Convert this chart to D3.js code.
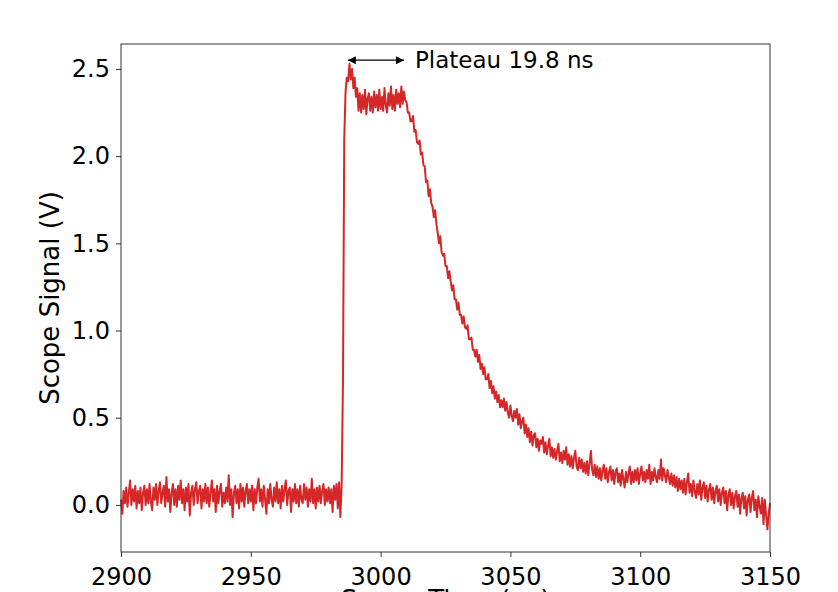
<!DOCTYPE html>
<html>
<head>
<meta charset="utf-8">
<script src="https://cdn.jsdelivr.net/npm/d3@7"></script>
<style>
  body { margin: 0; background: #fff; }
  svg text { font-family: "DejaVu Sans", sans-serif; fill: #000; }
</style>
</head>
<body>
<div id="scopeChart"></div>
<script>
// sampling grid of the trace (ns)
const tStart = 2900;
const tStep = 0.5;

// scope signal (V), one value every 0.5 ns from 2900 to 3150
const signal = [
  // 2900 - 2984.5 : baseline
  0.03, -0.05, 0.08, 0.01, 0.10, -0.01, 0.07, 0.14, 0.00, 0.09,
  0.02, 0.11, -0.02, 0.08, 0.01, 0.10, -0.03, 0.07, 0.11, 0.00,
  0.09, 0.01, 0.12, 0.02, -0.03, 0.10, 0.03, 0.12, 0.00, 0.08,
  0.13, 0.01, 0.07, 0.11, -0.01, 0.16, 0.02, 0.09, -0.04, 0.07,
  0.12, 0.00, 0.09, -0.01, 0.11, 0.03, 0.14, 0.01, 0.09, -0.03,
  0.10, 0.02, 0.12, -0.06, 0.07, 0.11, 0.00, 0.09, 0.13, 0.01,
  0.08, 0.11, -0.02, 0.09, 0.02, 0.12, 0.01, 0.10, -0.01, 0.07,
  0.14, 0.02, 0.09, -0.04, 0.11, 0.01, 0.08, 0.12, -0.01, 0.07,
  0.01, 0.10, 0.02, 0.17, 0.00, 0.09, -0.07, 0.07, 0.11, 0.01,
  0.09, -0.02, 0.12, 0.02, 0.10, -0.01, 0.08, 0.12, 0.01, 0.09,
  0.02, 0.11, -0.03, 0.09, 0.01, 0.10, 0.15, 0.02, 0.09, -0.01,
  0.11, 0.03, -0.05, 0.09, 0.01, 0.12, 0.03, -0.01, 0.10, 0.02,
  0.13, 0.01, 0.09, -0.02, 0.11, 0.02, 0.09, 0.14, 0.00, 0.08,
  0.10, -0.04, 0.09, 0.02, 0.12, 0.01, 0.09, -0.01, 0.11, 0.03,
  0.01, 0.12, 0.03, 0.10, -0.01, 0.09, 0.02, 0.15, 0.01, 0.09,
  -0.02, 0.10, 0.02, 0.11, 0.01, 0.08, 0.12, 0.00, 0.09, 0.02,
  0.10, 0.01, 0.09, -0.04, 0.11, 0.03, 0.12, -0.02, 0.13, -0.07,
  // 2985 - 2991.5 : rise and peak
  0.12, 0.70, 2.10, 2.37, 2.45, 2.43, 2.53, 2.44, 2.50, 2.39,
  2.45, 2.34, 2.39, 2.26,
  // 2992 - 3011.5 : plateau
  2.36, 2.25, 2.35, 2.27, 2.38, 2.24, 2.33, 2.36, 2.26, 2.34,
  2.25, 2.37, 2.28, 2.35, 2.26, 2.38, 2.27, 2.34, 2.26, 2.39,
  2.29, 2.25, 2.36, 2.29, 2.40, 2.27, 2.35, 2.26, 2.38, 2.30,
  2.36, 2.28, 2.40, 2.30, 2.37, 2.32, 2.31, 2.25, 2.25, 2.20,
  // 3012 - 3150 : decay
  2.20, 2.23, 2.14, 2.15, 2.08, 2.07, 2.09, 2.01, 2.02, 1.95,
  1.94, 1.85, 1.86, 1.77, 1.81, 1.73, 1.71, 1.65, 1.69, 1.61,
  1.56, 1.50, 1.54, 1.45, 1.43, 1.44, 1.37, 1.37, 1.30, 1.34,
  1.28, 1.23, 1.26, 1.18, 1.18, 1.12, 1.16, 1.09, 1.09, 1.04,
  1.08, 1.02, 1.01, 1.03, 0.95, 0.95, 0.96, 0.89, 0.89, 0.85,
  0.89, 0.82, 0.86, 0.78, 0.81, 0.75, 0.79, 0.72, 0.72, 0.75,
  0.67, 0.71, 0.64, 0.68, 0.61, 0.65, 0.59, 0.63, 0.56, 0.60,
  0.56, 0.61, 0.54, 0.59, 0.53, 0.50, 0.57, 0.51, 0.48, 0.54,
  0.50, 0.55, 0.46, 0.52, 0.44, 0.48, 0.50, 0.41, 0.46, 0.39,
  0.44, 0.36, 0.42, 0.34, 0.40, 0.41, 0.33, 0.38, 0.31, 0.37,
  0.35, 0.39, 0.30, 0.36, 0.29, 0.34, 0.38, 0.28, 0.33, 0.27,
  0.32, 0.26, 0.31, 0.35, 0.25, 0.30, 0.24, 0.31, 0.26, 0.33,
  0.23, 0.29, 0.22, 0.28, 0.21, 0.27, 0.31, 0.22, 0.20, 0.27,
  0.21, 0.26, 0.19, 0.24, 0.18, 0.25, 0.17, 0.24, 0.31, 0.20,
  0.17, 0.23, 0.16, 0.22, 0.15, 0.21, 0.14, 0.20, 0.23, 0.15,
  0.21, 0.13, 0.19, 0.22, 0.14, 0.20, 0.12, 0.19, 0.21, 0.13,
  0.18, 0.11, 0.20, 0.15, 0.10, 0.19, 0.13, 0.18, 0.22, 0.12,
  0.19, 0.13, 0.20, 0.14, 0.21, 0.12, 0.18, 0.22, 0.14, 0.19,
  0.13, 0.20, 0.15, 0.23, 0.12, 0.19, 0.14, 0.21, 0.16, 0.13,
  0.20, 0.15, 0.26, 0.14, 0.21, 0.17, 0.13, 0.20, 0.16, 0.12,
  0.18, 0.11, 0.17, 0.10, 0.16, 0.08, 0.15, 0.09, 0.14, 0.07,
  0.15, 0.06, 0.13, 0.18, 0.07, 0.12, 0.05, 0.14, 0.08, 0.04,
  0.12, 0.06, 0.14, 0.03, 0.10, 0.13, 0.04, 0.11, 0.02, 0.09,
  0.12, 0.03, 0.10, 0.01, 0.08, 0.11, 0.02, 0.09, 0.00, 0.07,
  0.10, 0.01, 0.08, -0.03, 0.06, 0.09, 0.00, 0.07, -0.02, 0.05,
  0.08, -0.01, 0.06, -0.05, 0.04, 0.07, -0.02, 0.05, -0.06, 0.03,
  0.06, -0.04, 0.04, 0.08, -0.03, 0.03, -0.07, 0.05, -0.01, -0.05,
  0.04, -0.11, 0.03, -0.06, -0.14, -0.05, 0.01
];

const xTicks = [2900, 2950, 3000, 3050, 3100, 3150];
const yTicks = [0.0, 0.5, 1.0, 1.5, 2.0, 2.5];

// plateau annotation: arrow ends (ns), height (V) and label
const plateauEnds = [2987.4, 3009.0];
const plateauLevel = 2.55;
const plateauLabel = "Plateau 19.8 ns";

const trace = signal.map((v, i) => ({ t: tStart + i * tStep, v }));

const W = 838, H = 592;
const margin = { top: 44, right: 68, bottom: 40, left: 121 };

const svg = d3.select("#scopeChart").append("svg")
    .attr("width", W)
    .attr("height", H);

const x = d3.scaleLinear()
    .domain([2900, 3150])
    .range([margin.left, W - margin.right]);

const y = d3.scaleLinear()
    .domain([-0.27, 2.643])
    .range([H - margin.bottom, margin.top]);

// trace
const line = d3.line()
    .x(d => x(d.t))
    .y(d => y(d.v));

svg.append("path")
    .datum(trace)
    .attr("fill", "none")
    .attr("stroke", "#d62728")
    .attr("stroke-width", 2)
    .attr("stroke-linejoin", "round")
    .attr("d", line);

// frame
svg.append("rect")
    .attr("x", margin.left)
    .attr("y", margin.top)
    .attr("width", W - margin.left - margin.right)
    .attr("height", H - margin.top - margin.bottom)
    .attr("fill", "none")
    .attr("stroke", "#333")
    .attr("stroke-width", 1);

// axes
svg.append("g")
    .attr("transform", `translate(0,${H - margin.bottom})`)
    .call(d3.axisBottom(x).tickValues(xTicks).tickFormat(d3.format("d")).tickSize(5).tickPadding(11))
    .call(g => g.select(".domain").remove())
    .call(g => g.selectAll(".tick line").attr("stroke", "#333"))
    .call(g => g.selectAll("text").attr("font-size", 24).attr("font-family", "DejaVu Sans"));

svg.append("g")
    .attr("transform", `translate(${margin.left},0)`)
    .call(d3.axisLeft(y).tickValues(yTicks).tickFormat(d3.format(".1f")).tickSize(5).tickPadding(6))
    .call(g => g.select(".domain").remove())
    .call(g => g.selectAll(".tick line").attr("stroke", "#333"))
    .call(g => g.selectAll("text").attr("font-size", 24).attr("font-family", "DejaVu Sans"));

// axis titles
svg.append("text")
    .attr("transform", `translate(59,${(margin.top + H - margin.bottom) / 2}) rotate(-90)`)
    .attr("text-anchor", "middle")
    .attr("font-size", 26)
    .text("Scope Signal (V)");

svg.append("text")
    .attr("x", (margin.left + W - margin.right) / 2)
    .attr("y", 609)
    .attr("text-anchor", "middle")
    .attr("font-size", 26)
    .text("Scope Time (ns)");

// plateau arrow
const defs = svg.append("defs");
["start", "end"].forEach(k => {
    defs.append("marker")
        .attr("id", "head-" + k)
        .attr("viewBox", "0 0 10 10")
        .attr("refX", 10)
        .attr("refY", 5)
        .attr("markerUnits", "userSpaceOnUse")
        .attr("markerWidth", 10)
        .attr("markerHeight", 8)
        .attr("orient", k === "start" ? "auto-start-reverse" : "auto")
        .append("path")
        .attr("d", "M0,0 L10,5 L0,10 Z")
        .attr("fill", "#000");
});

svg.append("line")
    .attr("x1", x(plateauEnds[0]))
    .attr("x2", x(plateauEnds[1]))
    .attr("y1", y(plateauLevel))
    .attr("y2", y(plateauLevel))
    .attr("stroke", "#000")
    .attr("stroke-width", 1.3)
    .attr("marker-start", "url(#head-start)")
    .attr("marker-end", "url(#head-end)");

svg.append("text")
    .attr("x", x(plateauEnds[1]) + 11)
    .attr("y", y(plateauLevel))
    .attr("dy", "0.36em")
    .attr("font-size", 23)
    .text(plateauLabel);
</script>
</body>
</html>
